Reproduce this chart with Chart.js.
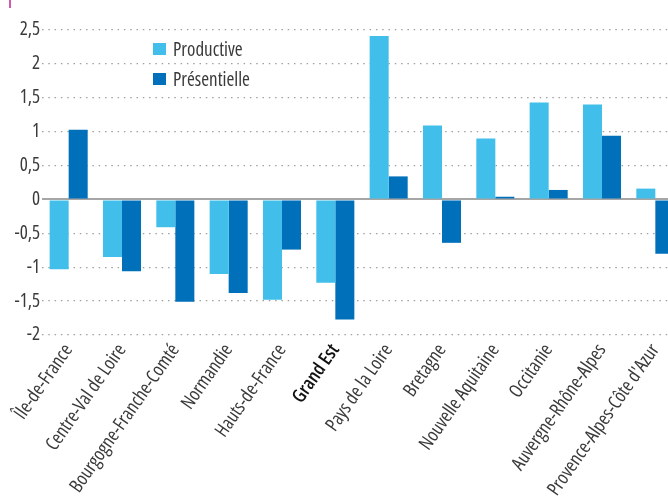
<!DOCTYPE html>
<html>
<head>
<meta charset="utf-8">
<script src="https://cdn.jsdelivr.net/npm/chart.js@4/dist/chart.umd.min.js"></script>
<style>
  html, body { margin: 0; padding: 0; background: #fff; overflow: hidden; width: 668px; height: 504px; }
  #wrap { position: relative; width: 668px; height: 504px; overflow: hidden; }
  canvas { position: absolute; left: 0; top: 0; }
  #legend { position: absolute; left: 153px; top: 34px; font-family: "Open Sans", sans-serif; font-stretch: 75%; font-size: 19px; color: #3a3a3a; }
  .item { display: flex; align-items: center; height: 30px; }
  .sw { width: 12.5px; height: 12.5px; margin-right: 7.5px; }
  #mark { position: absolute; left: 9px; top: 0; width: 2px; height: 8px; background: #d35aa8; }
</style>
</head>
<body>
<div id="wrap">
  <canvas id="c" width="682" height="504"></canvas>
  <div id="mark"></div>
  <div id="legend"></div>
</div>
<script>
const categories = ['Île-de-France','Centre-Val de Loire','Bourgogne-Franche-Comté','Normandie','Hauts-de-France','Grand Est','Pays de la Loire','Bretagne','Nouvelle Aquitaine','Occitanie','Auvergne-Rhône-Alpes',"Provence-Alpes-Côte d'Azur"];
const productive = [-1.03, -0.85, -0.41, -1.10, -1.48, -1.23, 2.41, 1.09, 0.90, 1.43, 1.40, 0.16];
const presentielle = [1.03, -1.06, -1.51, -1.38, -0.74, -1.77, 0.34, -0.64, 0.04, 0.14, 0.94, -0.80];
const seriesNames = ['Productive', 'Présentielle'];
const seriesColors = ['#41BFEA', '#0070BA'];
const highlighted = 'Grand Est';

const FONT = '"Open Sans", sans-serif';

const chart = new Chart(document.getElementById('c'), {
  type: 'bar',
  data: {
    labels: categories,
    datasets: [
      { label: seriesNames[0], data: productive, backgroundColor: seriesColors[0] },
      { label: seriesNames[1], data: presentielle, backgroundColor: seriesColors[1] }
    ]
  },
  options: {
    responsive: false,
    animation: false,
    layout: { padding: { top: 30, left: 0, right: 0, bottom: 0 } },
    datasets: { bar: { categoryPercentage: 0.713, barPercentage: 1.0 } },
    plugins: { legend: { display: false }, tooltip: { enabled: false } },
    scales: {
      x: {
        grid: { display: false, drawTicks: false },
        border: { display: false },
        ticks: {
          autoSkip: false,
          minRotation: 55,
          maxRotation: 55,
          padding: 5,
          color: (ctx) => categories[ctx.index] === highlighted ? '#111' : '#3a3a3a',
          font: (ctx) => ({ family: FONT, size: 19, weight: categories[ctx.index] === highlighted ? '600 condensed' : '400 condensed' })
        },
        afterFit: (s) => { s.height = 169; s.paddingLeft = 0; s.paddingRight = 0; }
      },
      y: {
        min: -2,
        max: 2.5,
        ticks: {
          stepSize: 0.5,
          padding: 2,
          color: '#3a3a3a',
          font: { family: FONT, size: 19, weight: '400 condensed' },
          callback: (v) => String(v).replace('.', ',')
        },
        grid: {
          drawTicks: false,
          color: (ctx) => ctx.tick && ctx.tick.value === 0 ? '#a6a6a6' : '#a0a0a0',
          lineWidth: (ctx) => ctx.tick && ctx.tick.value === 0 ? 2 : 1.3
        },
        border: {
          display: false,
          dash: (ctx) => ctx.tick && ctx.tick.value === 0 ? [] : [1.5, 4.8]
        },
        afterFit: (s) => { s.width = 42; }
      }
    }
  }
});

const legend = document.getElementById('legend');
chart.data.datasets.forEach((ds) => {
  const item = document.createElement('div');
  item.className = 'item';
  const sw = document.createElement('span');
  sw.className = 'sw';
  sw.style.background = ds.backgroundColor;
  const t = document.createElement('span');
  t.textContent = ds.label;
  item.appendChild(sw);
  item.appendChild(t);
  legend.appendChild(item);
});
</script>
</body>
</html>
